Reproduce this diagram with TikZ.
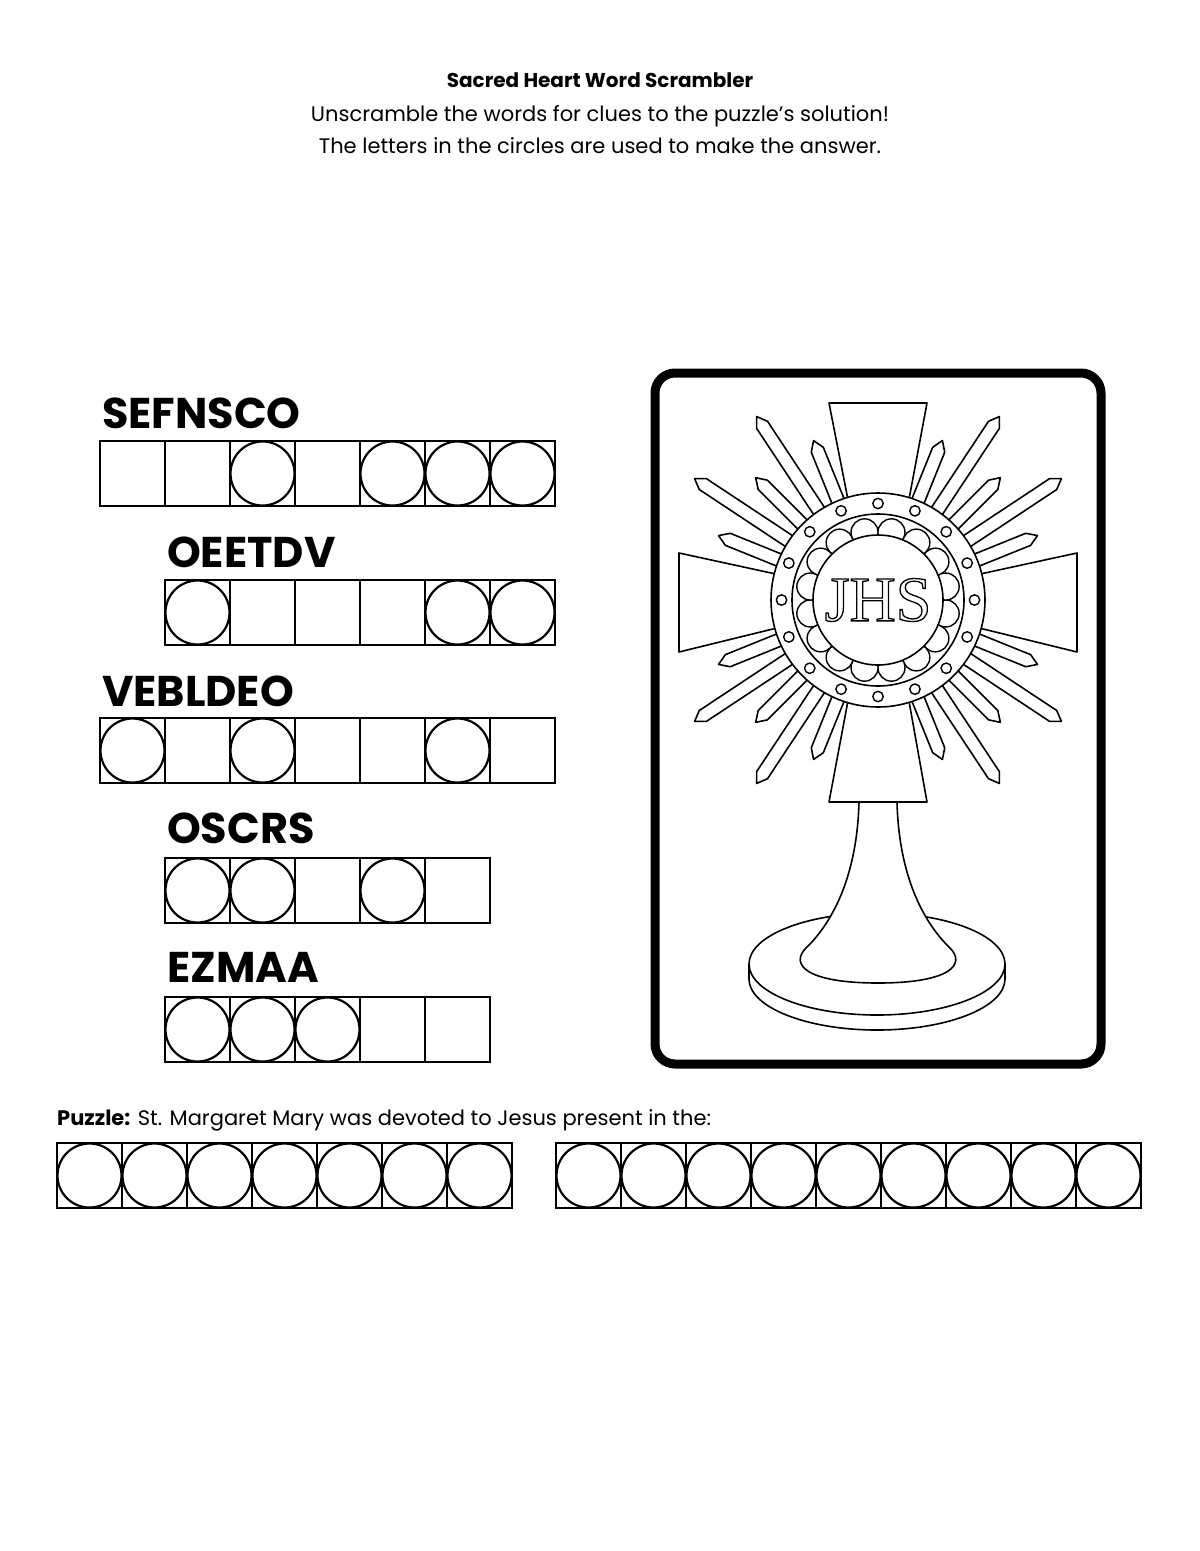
\documentclass[tikz,border=0pt]{standalone}
\usepackage{fontspec}
\setmainfont{Poppins}
\newfontfamily\jhsfont{Liberation Serif}
\begin{document}
\begin{tikzpicture}[x=1pt,y=-1pt,
  cell/.style={draw=black,line width=2.2pt},
  ring/.style={circle,draw=black,line width=2.2pt,inner sep=0pt,minimum size=64pt},
  word/.style={anchor=base west,font=\bfseries\fontsize{43}{43}\selectfont,inner sep=0pt},
  mline/.style={draw=black,line width=1.6pt,fill=white,line join=round}]
\useasboundingbox[fill=white] (0,0) rectangle (1200,1551);
\node[font=\bfseries\fontsize{20}{20}\selectfont,anchor=base] (title) at (600,87) {Sacred Heart Word Scrambler};
\node[font=\fontsize{21}{21}\selectfont,anchor=base] (l1) at (600,121) {Unscramble the words for clues to the puzzle’s solution!};
\node[font=\fontsize{21}{21}\selectfont,anchor=base] (l2) at (600,153) {The letters in the circles are used to make the answer.};
% word rows: x, label baseline, box top, cells, circle list
\foreach \name/\wx/\lb/\by/\n/\circs in {SEFNSCO/100/428/441/7/{3,5,6,7},OEETDV/165/567/580/6/{1,5,6},VEBLDEO/100/706/718/7/{1,3,6},OSCRS/165/843/858/5/{1,2,4},EZMAA/165/982/997/5/{1,2,3}}{
  \node[word] (w\name) at (\wx+2,\lb) {\name};
  \foreach \i in {1,...,\n}{\draw[cell] ({\wx+(\i-1)*65},\by) rectangle ++(65,65);}
  \foreach \c in \circs {\node[ring] (c\name\c) at ({\wx+(\c-0.5)*65},\by+32.5) {};}
}
\node[anchor=base west,font=\fontsize{21}{21}\selectfont,inner sep=0pt] (puz) at (57,1125) {\textbf{Puzzle:} St. Margaret Mary was devoted to Jesus present in the:};
\foreach \i in {1,...,7}{\draw[cell] ({57+(\i-1)*65},1143) rectangle ++(65,65); \node[ring] (pa\i) at ({57+(\i-0.5)*65},1175.5) {};}
\foreach \i in {1,...,9}{\draw[cell] ({556+(\i-1)*65},1143) rectangle ++(65,65); \node[ring] (pb\i) at ({556+(\i-0.5)*65},1175.5) {};}
% frame
\draw[line width=9pt,rounded corners=20pt] (655,373) rectangle (1101,1064);
% rays
\begin{scope}[shift={(878,600)}]
\foreach \q in {0,90,180,270}{
  \foreach \o/\L in {22/172,33.5/220,45/173,56.5/220,68/172}{
    \draw[mline,rotate=\q+\o] (95,-6.5) -- ({\L-10},-6.5) -- (\L,0) -- ({\L-10},6.5) -- (95,6.5) -- cycle;
  }}
\end{scope}
% cross arms
\draw[mline] (679,553) -- (785,576) -- (785,626) -- (679,652) -- cycle;
\draw[mline] (1077,553) -- (971,576) -- (971,626) -- (1077,652) -- cycle;
\draw[mline] (829,403) -- (927,403) -- (907,510) -- (850,510) -- cycle;
\draw[mline] (850,690) -- (907,690) -- (927,802) -- (829,802) -- cycle;
% ring
\draw[mline] (878,600) circle[radius=107];
\draw[mline] (878,600) circle[radius=86];
\foreach \a in {0,22.5,...,359}{\draw[mline,line width=1.4pt] (878,600) ++(\a:96.5) circle[radius=5.2];}
\foreach \a in {11.25,33.75,...,359}{\draw[mline,line width=1.4pt] (878,600) ++(\a:69) circle[radius=13.5];}
\draw[mline] (878,600) circle[radius=65];
\node[font=\jhsfont\fontsize{64}{64}\selectfont,inner sep=0pt] (jhs) at (878,600) {\special{pdf:literal direct 1 Tr 1.3 w}JHS\special{pdf:literal direct 0 Tr}};
% base
\draw[mline] (749,964) -- (749,979) arc[start angle=180,end angle=0,x radius=128,y radius=51] -- (1005,964);
\draw[mline] (877,964) ellipse[x radius=128,y radius=51];
% stem
\draw[mline] (859,802) .. controls (857,880) and (830,925) .. (806,948)
  .. controls (790,964) and (805,983) .. (878,983)
  .. controls (951,983) and (966,964) .. (950,948)
  .. controls (926,925) and (899,880) .. (897,802) -- cycle;
\end{tikzpicture}
\end{document}
